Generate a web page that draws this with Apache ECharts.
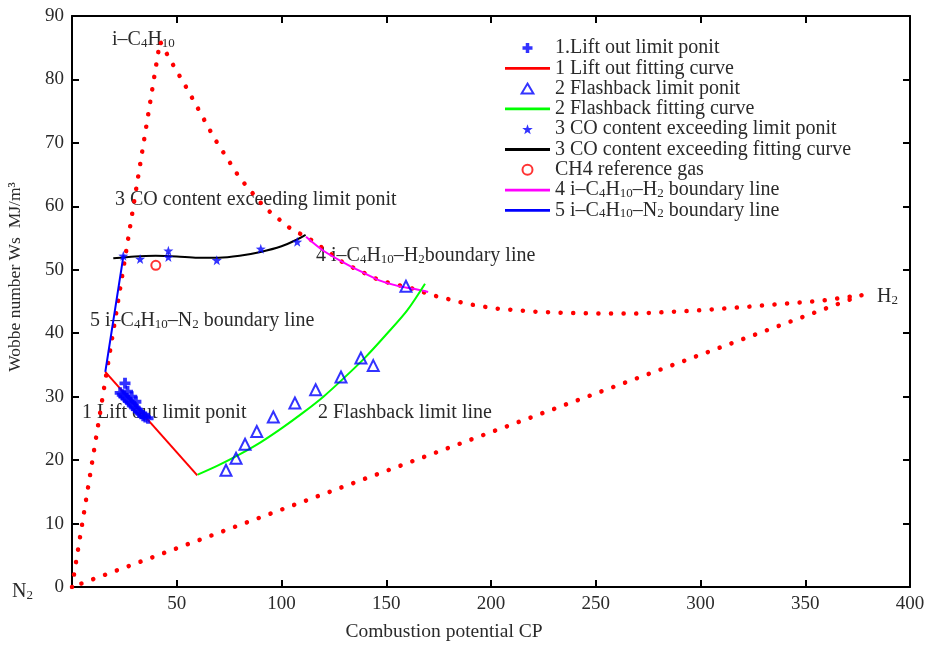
<!DOCTYPE html>
<html><head><meta charset="utf-8">
<script src="https://cdn.jsdelivr.net/npm/echarts@6/dist/echarts.min.js"></script>
<style>html,body{margin:0;padding:0;background:#fff}#c{width:932px;height:645px}</style>
</head><body><div id="c"></div>
<script>
// ---- data ----
const xTickValues = [0, 50, 100, 150, 200, 250, 300, 350, 400];
const yTickValues = [0, 10, 20, 30, 40, 50, 60, 70, 80, 90];

// red dotted triangle: N2 -> i-C4H10 -> H2 -> N2
const boundaryX = [0, 42, 47, 55, 68, 80, 92, 105, 112, 130, 147, 163, 172, 189, 202, 221, 235, 255, 269, 282, 299, 320, 338, 357, 377, 0];
const boundaryY = [0, 86, 83, 78.5, 70.7, 64.5, 59.8, 56.3, 55.2, 51, 48.3, 47, 46, 44.6, 43.9, 43.4, 43.2, 43.1, 43.1, 43.3, 43.6, 44.1, 44.6, 45.1, 46, 0];

const liftPtsX = [25.3, 23, 24, 25, 26, 27, 28, 29, 30, 31, 32, 33, 34, 35, 36.3, 26.5, 28.5, 30.5];
const liftPtsY = [32.1, 30.6, 30.3, 30.0, 29.7, 29.3, 29.0, 28.6, 28.3, 28.0, 27.6, 27.3, 27.0, 26.8, 26.6, 30.8, 30.0, 29.2];
const liftFitX = [15.9, 59.8];
const liftFitY = [33.9, 17.6];

const flashPtsX = [73.5, 78.3, 82.6, 88.2, 96.1, 106.4, 116.3, 128.4, 137.9, 143.8, 159.4];
const flashPtsY = [18.4, 20.3, 22.5, 24.5, 26.8, 29.0, 31.1, 33.1, 36.1, 34.9, 47.4];
const flashFitX = [60, 70, 80, 90, 100, 110, 120, 130, 140, 150, 160, 168.5];
const flashFitY = [17.7, 19.2, 20.9, 22.8, 25.0, 27.4, 30.0, 33.0, 36.2, 39.8, 43.6, 47.8];

const coPtsX = [24.5, 32.5, 46.0, 46.0, 69.1, 90.1, 107.5];
const coPtsY = [52.2, 51.7, 53.0, 52.0, 51.5, 53.3, 54.4];
const coFitX = [19.7, 30, 40, 50, 60, 70, 80, 90, 100, 107, 111.5];
const coFitY = [51.8, 52.1, 52.2, 52.1, 51.9, 51.9, 52.2, 52.8, 53.7, 54.7, 55.5];

const ch4X = [40];
const ch4Y = [50.7];

const h2LineX = [111.7, 120, 131, 140, 147, 155, 163, 170];
const h2LineY = [55.2, 53.0, 50.9, 49.4, 48.3, 47.5, 47.0, 46.5];

const n2LineX = [15.9, 24.6];
const n2LineY = [33.9, 52.3];

const seriesNames = [
  '1.Lift out limit ponit',
  '1 Lift out fitting curve',
  '2 Flashback limit ponit',
  '2 Flashback fitting curve',
  '3 CO content exceeding limit ponit',
  '3 CO content exceeding fitting curve',
  'CH4 reference gas',
  '4 i–C{sub|4}H{sub|10}–H{sub|2} boundary line',
  '5 i–C{sub|4}H{sub|10}–N{sub|2} boundary line'
];

// ---- helpers / styles ----
const pair = (xs, ys) => xs.map((x, i) => [x, ys[i]]);
const FONT = '"Liberation Serif", "Times New Roman", serif';
const TXT = '#2a2a2a';
const FS = 20;
const rich = {
  sub: {fontFamily: FONT, fontSize: 13, color: TXT, lineHeight: 10, verticalAlign: 'bottom'}
};
const plusPath = 'path://M-1.4,-4 L1.4,-4 L1.4,-1.4 L4,-1.4 L4,1.4 L1.4,1.4 L1.4,4 L-1.4,4 L-1.4,1.4 L-4,1.4 L-4,-1.4 L-1.4,-1.4 Z';
const starPath = 'path://M0,-10 L2.35,-3.24 L9.51,-3.09 L3.8,1.24 L5.88,8.09 L0,4 L-5.88,8.09 L-3.8,1.24 L-9.51,-3.09 L-2.35,-3.24 Z';
const triPath = 'path://M0,-5 L5.6,4.5 L-5.6,4.5 Z';
const lineIcon = 'path://M0,0 L45,0 L45,2.8 L0,2.8 Z';
const legendIcons = [plusPath, lineIcon, triPath, lineIcon, starPath, lineIcon, 'circle', lineIcon, lineIcon];

const chart = echarts.init(document.getElementById('c'), null, {renderer: 'canvas'});

const axisCommon = {
  type: 'value',
  splitLine: {show: false},
  axisLine: {onZero: false, lineStyle: {color: '#000', width: 2}},
  axisTick: {inside: true, length: 7, lineStyle: {color: '#000', width: 2}}
};

const txt = (left, top, text) => ({
  type: 'text', left: left, top: top,
  style: {text: text, rich: rich, fontFamily: FONT, fontSize: FS, fill: TXT, lineHeight: 20}
});

const option = {
  backgroundColor: '#fff',
  animation: false,
  grid: {left: 72, right: 22, top: 16, bottom: 58},
  xAxis: [
    Object.assign({}, axisCommon, {
      min: xTickValues[0], max: xTickValues[xTickValues.length - 1], interval: xTickValues[1] - xTickValues[0],
      position: 'bottom',
      axisLabel: {formatter: v => (v === 0 ? '' : String(v)), color: TXT, fontFamily: FONT, fontSize: 19, margin: 8}
    }),
    Object.assign({}, axisCommon, {
      min: xTickValues[0], max: xTickValues[xTickValues.length - 1], interval: xTickValues[1] - xTickValues[0],
      position: 'top', axisLabel: {show: false}
    })
  ],
  yAxis: [
    Object.assign({}, axisCommon, {
      min: yTickValues[0], max: yTickValues[yTickValues.length - 1], interval: yTickValues[1] - yTickValues[0],
      position: 'left',
      axisLabel: {color: TXT, fontFamily: FONT, fontSize: 19, margin: 8}
    }),
    Object.assign({}, axisCommon, {
      min: yTickValues[0], max: yTickValues[yTickValues.length - 1], interval: yTickValues[1] - yTickValues[0],
      position: 'right', axisLabel: {show: false}
    })
  ],
  legend: {
    orient: 'vertical', left: 500, top: 33,
    itemWidth: 45, itemHeight: 10, itemGap: 0.3,
    data: seriesNames.map((n, i) => ({name: n, icon: legendIcons[i]})),
    formatter: name => name,
    textStyle: {fontFamily: FONT, fontSize: FS, color: TXT, lineHeight: 20, rich: rich}
  },
  graphic: [
    {type: 'text', x: 15, y: 277, rotation: Math.PI / 2,
     style: {text: 'Wobbe number Ws  MJ/m³', fontFamily: FONT, fontSize: 17.5, fill: TXT, align: 'center', verticalAlign: 'middle'}},
    {type: 'text', x: 444, y: 632,
     style: {text: 'Combustion potential CP', fontFamily: FONT, fontSize: 19.5, fill: TXT, align: 'center', verticalAlign: 'middle'}},
    txt(112, 30, 'i–C{sub|4}H{sub|10}'),
    txt(115, 190, '3 CO content exceeding limit ponit'),
    txt(316, 246, '4 i–C{sub|4}H{sub|10}–H{sub|2}boundary line'),
    txt(90, 311, '5 i–C{sub|4}H{sub|10}–N{sub|2} boundary line'),
    txt(82, 403, '1 Lift out limit ponit'),
    txt(318, 403, '2 Flashback limit line'),
    txt(877, 287, 'H{sub|2}'),
    txt(12, 582, 'N{sub|2}')
  ],
  series: [
    {name: 'boundary', type: 'line', data: pair(boundaryX, boundaryY), symbol: 'none', silent: true, z: 1,
     lineStyle: {color: '#ff0000', width: 4.5, type: [0.1, 12.5], cap: 'round'}},
    {name: seriesNames[0], type: 'scatter', data: pair(liftPtsX, liftPtsY), symbol: plusPath, symbolSize: 11, z: 4,
     itemStyle: {color: '#0000ff'}},
    {name: seriesNames[1], type: 'line', data: pair(liftFitX, liftFitY), symbol: 'none', z: 3,
     lineStyle: {color: '#ff0000', width: 2}, itemStyle: {color: '#ff0000'}},
    {name: seriesNames[2], type: 'scatter', data: pair(flashPtsX, flashPtsY), symbol: 'triangle', symbolSize: 11, z: 4,
     itemStyle: {color: 'rgba(0,0,0,0)', borderColor: '#0000ff', borderWidth: 2}},
    {name: seriesNames[3], type: 'line', data: pair(flashFitX, flashFitY), symbol: 'none', smooth: 0.3, z: 3,
     lineStyle: {color: '#00ff00', width: 2}, itemStyle: {color: '#00ff00'}},
    {name: seriesNames[4], type: 'scatter', data: pair(coPtsX, coPtsY), symbol: starPath, symbolSize: 10, z: 4,
     itemStyle: {color: '#0000ff'}},
    {name: seriesNames[5], type: 'line', data: pair(coFitX, coFitY), symbol: 'none', smooth: 0.3, z: 3,
     lineStyle: {color: '#000000', width: 2}, itemStyle: {color: '#000000'}},
    {name: seriesNames[6], type: 'scatter', data: pair(ch4X, ch4Y), symbol: 'circle', symbolSize: 9, z: 4,
     itemStyle: {color: 'rgba(0,0,0,0)', borderColor: '#ff0000', borderWidth: 2}},
    {name: seriesNames[7], type: 'line', data: pair(h2LineX, h2LineY), symbol: 'none', smooth: 0.3, z: 2,
     lineStyle: {color: '#ff00ff', width: 2}, itemStyle: {color: '#ff00ff'}},
    {name: seriesNames[8], type: 'line', data: pair(n2LineX, n2LineY), symbol: 'none', z: 3,
     lineStyle: {color: '#0000ff', width: 2}, itemStyle: {color: '#0000ff'}}
  ]
};
chart.setOption(option);
</script>
</body></html>
